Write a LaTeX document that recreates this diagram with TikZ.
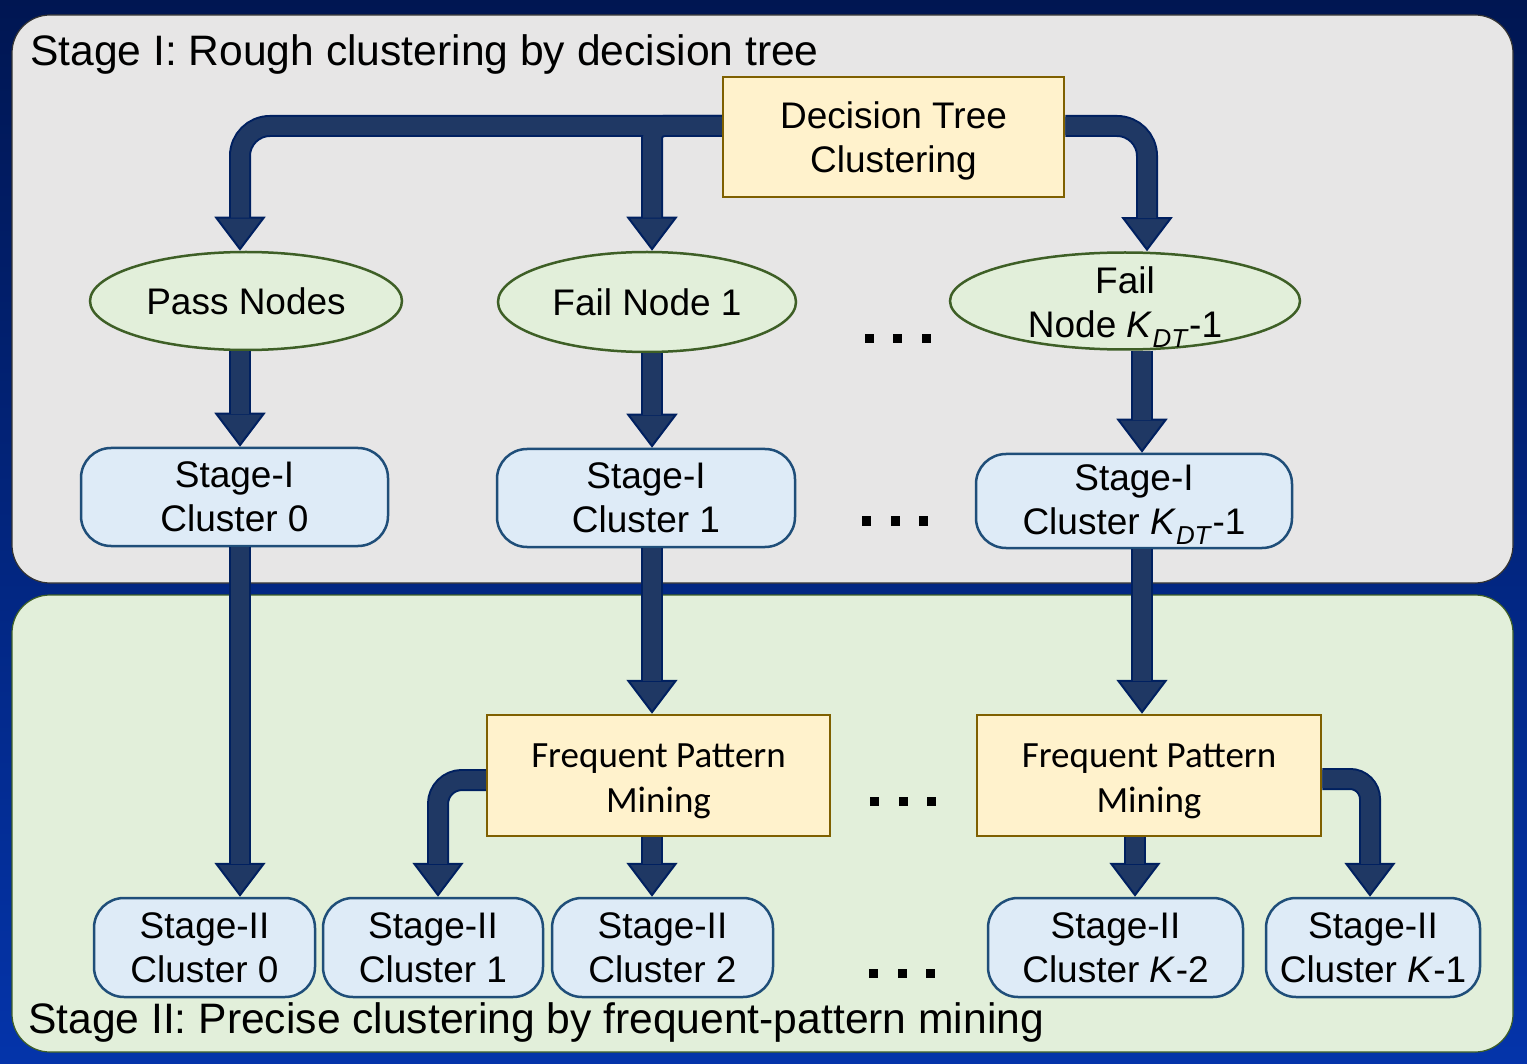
\documentclass[tikz,border=0pt]{standalone}
\usepackage{fontspec}
\setmainfont{Liberation Sans}
\newfontfamily\calfont{Carlito}
\usetikzlibrary{arrows.meta,shapes.geometric,calc}
\definecolor{bgtop}{HTML}{001652}
\definecolor{bgbot}{HTML}{0434AA}
\definecolor{panelA}{HTML}{E7E6E6}
\definecolor{panelB}{HTML}{E2EFDA}
\definecolor{yelfill}{HTML}{FFF2CC}
\definecolor{yeldraw}{HTML}{7F6000}
\definecolor{ellfill}{HTML}{E2EFDA}
\definecolor{elldraw}{HTML}{3E5F26}
\definecolor{bluefill}{HTML}{DEEBF7}
\definecolor{bluedraw}{HTML}{1F4E79}
\definecolor{arrfill}{HTML}{1F3864}
\definecolor{arrdraw}{HTML}{002060}
\tikzset{
  nodefont/.style={font=\fontsize{37}{44}\selectfont},
  calnodefont/.style={font=\calfont\fontsize{37}{45}\selectfont},
  titlefont/.style={font=\fontsize{42.6}{50}\selectfont},
  yelbox/.style={draw=yeldraw, fill=yelfill, line width=2.5pt, rectangle, inner sep=0pt, align=center},
  ellnode/.style={draw=elldraw, fill=ellfill, line width=2.5pt, ellipse, inner sep=0pt, align=center, nodefont},
  clubox/.style={draw=bluedraw, fill=bluefill, line width=2.5pt, rectangle, rounded corners=30pt, inner sep=0pt, align=center, nodefont},
  arrout/.style={draw=arrdraw, line width=22pt, -{Triangle[width=51pt,length=34pt,line width=2pt,fill=arrfill,color=arrdraw]}},
  arrin/.style={draw=arrfill, line width=18pt, shorten >=33pt},
}
\newcommand\blockarrow[2][30pt]{\draw[arrout,rounded corners=#1] #2; \draw[arrin,rounded corners=#1] #2;}
% two centred lines, moved down by #1 inside their node
\newcommand\twolines[3]{\raisebox{0pt}[\dimexpr\height+#1+#1\relax][\depth]{\begin{tabular}{@{}c@{}}#2\\#3\end{tabular}}}
\begin{document}
\begin{tikzpicture}[x=1pt,y=-1pt]
\shade[top color=bgtop,bottom color=bgbot] (0,0) rectangle (1527,1064);
\useasboundingbox (0,0) rectangle (1527,1064);
% panels
\draw[fill=panelA, draw=black!80, line width=1.2pt, rounded corners=38pt] (12,15) rectangle (1513,583);
\draw[fill=panelB, draw=elldraw, line width=1.2pt, rounded corners=38pt] (12,595) rectangle (1513,1052);
\node[titlefont, anchor=base west, inner sep=0pt] (title1) at (30,66) {Stage I: Rough clustering by decision tree};
\node[titlefont, anchor=base west, inner sep=0pt] (title2) at (28,1033) {Stage II: Precise clustering by frequent-pattern mining};
% nodes
\node[yelbox, nodefont, minimum width=341pt, minimum height=120pt] (dt) at (893.5,137) {\twolines{5pt}{Decision Tree}{Clustering}};
\node[ellnode, minimum width=312pt, minimum height=98pt] (pass) at (246,301) {Pass Nodes};
\node[ellnode, minimum width=298pt, minimum height=100pt] (f1) at (647,302) {Fail Node 1};
\node[ellnode, inner ysep=-26pt, minimum width=350pt, minimum height=97pt] (fk) at (1125,301) {\twolines{6pt}{Fail}{Node \textit{K}\textsubscript{\textit{DT}}-1}};
\node[clubox, minimum width=307pt, minimum height=98pt] (s1c0) at (234.5,497) {Stage-I\\Cluster 0};
\node[clubox, minimum width=298pt, minimum height=98pt] (s1c1) at (646,498) {Stage-I\\Cluster 1};
\node[clubox, minimum width=316pt, minimum height=92pt] (s1ck) at (1134,501) {\twolines{3pt}{Stage-I}{Cluster \textit{K}\textsubscript{\textit{DT}}-1}};
\node[yelbox, calnodefont, minimum width=343pt, minimum height=121pt] (fpmA) at (658.5,775.5) {\twolines{5pt}{Frequent Pattern}{Mining}};
\node[yelbox, calnodefont, minimum width=344pt, minimum height=121pt] (fpmB) at (1149,775.5) {\twolines{5pt}{Frequent Pattern}{Mining}};
\node[clubox, minimum width=221pt, minimum height=99pt] (s2c0) at (204.5,947.5) {Stage-II\\Cluster 0};
\node[clubox, minimum width=220pt, minimum height=99pt] (s2c1) at (433,947.5) {Stage-II\\Cluster 1};
\node[clubox, minimum width=221pt, minimum height=99pt] (s2c2) at (662.5,947.5) {Stage-II\\Cluster 2};
\node[clubox, minimum width=255pt, minimum height=99pt] (s2ck2) at (1115.5,947.5) {Stage-II\\Cluster \textit{K}-2};
\node[clubox, minimum width=214pt, minimum height=99pt] (s2ck1) at (1373,947.5) {Stage-II\\Cluster \textit{K}-1};
% arrow columns
\coordinate (xa) at (240,0);
\coordinate (xb) at (652,0);
\coordinate (xc) at (1147,0);
\coordinate (xd) at (1142,0);
\coordinate (xe) at (438,0);
\coordinate (xf) at (1135,0);
\coordinate (xg) at (1370,0);
% arrows: the two left branches share one shaft
\draw[arrout,rounded corners=12pt] ([yshift=11pt]dt.west) -| (xb |- f1.north);
\draw[arrout,rounded corners=30pt] ([yshift=11pt]dt.west) -| (xa |- pass.north);
\draw[arrin,rounded corners=12pt] ([yshift=11pt]dt.west) -| (xb |- f1.north);
\draw[arrin,rounded corners=30pt] ([yshift=11pt]dt.west) -| (xa |- pass.north);
\blockarrow[30pt]{([yshift=11pt]dt.east) -| (xc |- fk.north)}
\blockarrow{(xa |- pass.south) -- (xa |- s1c0.north)}
\blockarrow{(xb |- f1.south) -- (xb |- s1c1.north)}
\blockarrow{(xd |- fk.south) -- (xd |- s1ck.north)}
\blockarrow{(xa |- s1c0.south) -- (xa |- s2c0.north)}
\blockarrow{(xb |- s1c1.south) -- (xb |- fpmA.north)}
\blockarrow{(xd |- s1ck.south) -- (xd |- fpmB.north)}
\blockarrow[24pt]{([yshift=-4.5pt]fpmA.west) -| (xe |- s2c1.north)}
\blockarrow{(xb |- fpmA.south) -- (xb |- s2c2.north)}
\blockarrow{(xf |- fpmB.south) -- (xf |- s2ck2.north)}
\blockarrow[20pt]{([yshift=-3.5pt]fpmB.east) -| (xg |- s2ck1.north)}
% ellipsis dots
\foreach \cx/\cy in {897.5/339, 895/521, 903/801, 902/973}{
  \foreach \d in {-28.5,0,28.5}{
    \fill[black] ({\cx+\d-4.5},{\cy-4.5}) rectangle ++(9,9);
  }
}
\end{tikzpicture}
\end{document}
